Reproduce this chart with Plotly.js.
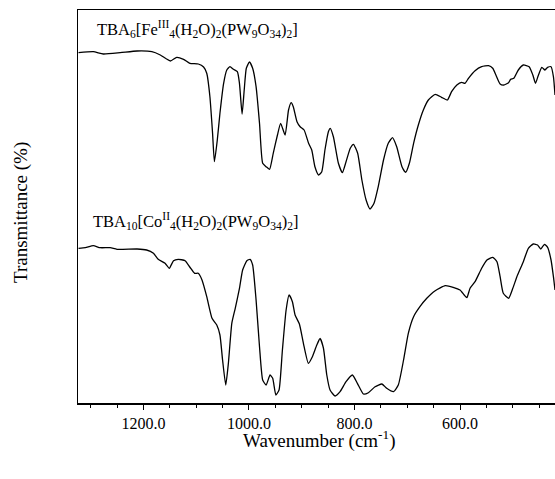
<!DOCTYPE html>
<html>
<head>
<meta charset="utf-8">
<script src="https://cdn.plot.ly/plotly-3.0.1.min.js"></script>
<style>html,body{margin:0;padding:0;background:#fff;}#chart{width:555px;height:479px;}</style>
</head>
<body>
<div id="chart"></div>
<script>
// Fe(III) spectrum (upper trace)
const feWavenumber = [1323,1295,1276,1244,1212,1184,1168,1149,1137,1124,1112,1096,1086,1080,1074,1069,1065.5,1060,1055,1048,1042,1036,1029.5,1022,1018,1013,1009,1005,999,993,986.5,980,974,967.5,961,954,946,940,931.5,925,920,916,909,903,895.5,887,881,875,868,862,856,849.5,846,840,830.5,823,816,808,802,794,786,778,770.5,763,755,745,736,728,720,710,703,696,688,679,669.5,660,647,635,624,616,606,597,590.5,584,571.5,559,546,538,532,524,517,508,504,498,489.5,480,469,462,457,452,445,439,434,427.5,423,420];
const feTransmittance = [350.3,351.3,349,350.3,352,351.3,348,342,345.7,343.7,339.7,339,336,329.7,306.3,270,241.3,263,289.7,319.7,333,336.3,333.7,331.3,319.7,289,313,334.7,341,334.7,316.3,279.7,239.7,236.3,233.7,249.7,268,279.7,268,293,300.3,296.3,281.3,276.3,273,259.7,253,236.3,228,231.3,253,271.3,274.7,266.3,239.7,230.3,241.3,254.7,258.7,249.7,223,203,194,199.7,216.3,243,259.7,265.3,256.3,236.3,230.7,239.7,259.7,278,293,303,308.7,305.7,303,311.3,318,320.7,319.7,324.7,332.3,336.3,337.3,334.7,328,319,318,320.3,323.7,324.7,333,338,336.3,328,319.7,327,335.7,333,335.7,336.3,326.3,308];

// Co(II) spectrum (lower trace)
const coWavenumber = [1323,1310,1295,1282,1263,1250,1212,1194,1181,1172,1159,1151,1143,1134,1121,1111.5,1103,1096,1089,1080,1070,1061,1055,1050,1044,1039,1032.5,1026,1018,1012,1004,998,993,986.5,980,974,967.5,960,955,949,943,936.6,929.6,924,917.7,912.6,904.4,896.8,887.4,879.8,871.4,865.2,858.9,852.5,846.3,836.8,827.3,816,804,794.5,783,773.7,761,748,739,726,717,707,698,688,676,663,647,628,613,600,592,587,581,571.5,559,549,538,530,524,518,508,500,491,480,470.5,461,453,447,440,434,427.5,423,420];
const coTransmittance = [154.7,155.3,157.3,155.3,155.3,153.7,154,153,149.7,143.7,139.7,134.7,142.3,143.7,142.3,135.5,129.7,129.7,123,106.3,84.7,78,68,43,18,39.7,79.7,94.7,114.7,133,142.3,143.7,138,103,56.3,23,18,28,24.7,8,13,53,93,108,101.3,88,79,59.7,39.7,46.3,58,64.5,55,28,13,7,11.3,21.3,28,19.7,9,10.3,16.3,19,14.7,11.3,18,43,69.7,86.3,96.3,104.7,112.3,117.3,115.7,113,108,105.3,114.7,121.3,134.7,143,145.7,141.3,126.3,109.7,104.7,114.7,128,141.3,154.7,159,158,154,158.7,155.7,143,126.3,113];

const feLabel = 'TBA<sub>6</sub>[Fe<sup>III</sup><sub>4</sub>(H<sub>2</sub>O)<sub>2</sub>(PW<sub>9</sub>O<sub>34</sub>)<sub>2</sub>]';
const coLabel = 'TBA<sub>10</sub>[Co<sup>II</sup><sub>4</sub>(H<sub>2</sub>O)<sub>2</sub>(PW<sub>9</sub>O<sub>34</sub>)<sub>2</sub>]';
const xTitle = 'Wavenumber (cm<sup>-1</sup>)';
const yTitle = 'Transmittance (%)';

const FONT = 'Liberation Serif';
const lineStyle = {color: '#000', width: 1.3, shape: 'spline', smoothing: 0.5};

const traces = [
  {x: feWavenumber, y: feTransmittance, type: 'scatter', mode: 'lines', line: lineStyle, hoverinfo: 'x+y'},
  {x: coWavenumber, y: coTransmittance, type: 'scatter', mode: 'lines', line: lineStyle, hoverinfo: 'x+y'}
];

const layout = {
  width: 555, height: 479,
  margin: {l: 78, r: 0, t: 10, b: 76},
  paper_bgcolor: '#fff', plot_bgcolor: '#fff',
  showlegend: false,
  font: {family: FONT, color: '#000'},
  xaxis: {
    range: [1324, 420],
    showgrid: false, zeroline: false,
    showline: true, linecolor: '#000', linewidth: 1.5, mirror: true,
    ticks: 'outside', ticklen: 5, tickwidth: 1, tickcolor: '#000',
    tick0: 0, dtick: 200, tickformat: '.1f',
    tickfont: {family: FONT, size: 16, color: '#000'},
    minor: {dtick: 50, tick0: 0, ticks: 'outside', ticklen: 3, tickcolor: '#000', tickwidth: 1, showgrid: false}
  },
  yaxis: {
    range: [0, 393],
    showgrid: false, zeroline: false,
    showline: true, linecolor: '#000', linewidth: 1.5, mirror: false,
    ticks: '', showticklabels: false
  },
  annotations: [
    {text: feLabel, xref: 'paper', yref: 'paper', x: 0.036, y: 0.952, xanchor: 'left', yanchor: 'middle', showarrow: false, font: {family: FONT, size: 16.5, color: '#000'}},
    {text: coLabel, xref: 'paper', yref: 'paper', x: 0.028, y: 0.464, xanchor: 'left', yanchor: 'middle', showarrow: false, font: {family: FONT, size: 16.5, color: '#000'}},
    {text: xTitle, xref: 'paper', yref: 'paper', x: 0.507, y: -0.093, xanchor: 'center', yanchor: 'middle', showarrow: false, font: {family: FONT, size: 19, color: '#000'}},
    {text: yTitle, xref: 'paper', yref: 'paper', x: -0.1195, y: 0.486, xanchor: 'center', yanchor: 'middle', textangle: -90, showarrow: false, font: {family: FONT, size: 19, color: '#000'}}
  ]
};

Plotly.newPlot('chart', traces, layout, {displayModeBar: false, staticPlot: true});
</script>
</body>
</html>
